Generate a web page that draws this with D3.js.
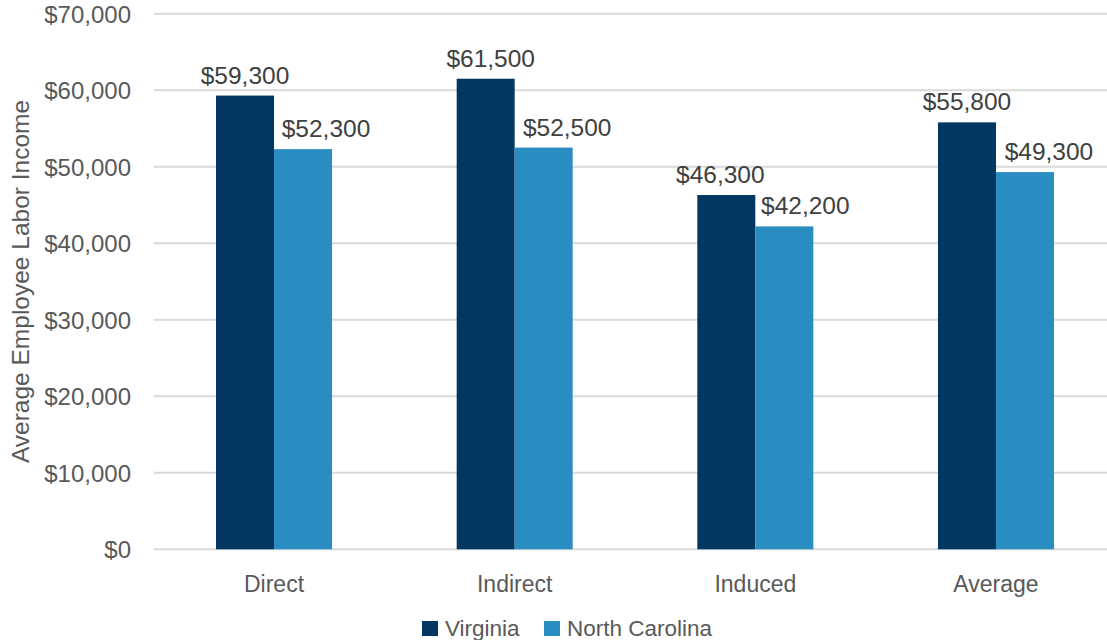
<!DOCTYPE html>
<html>
<head>
<meta charset="utf-8">
<script src="https://cdn.jsdelivr.net/npm/d3@7"></script>
<style>
  html, body { margin: 0; padding: 0; background: #fff; }
  svg { display: block; font-family: "Liberation Sans", Arial, sans-serif; }
</style>
</head>
<body>
<svg id="chart" width="1107" height="640"></svg>
<script>
// Average employee labor income by impact type
const categories = ["Direct", "Indirect", "Induced", "Average"];
const seriesNames = ["Virginia", "North Carolina"];
const virginia = [59300, 61500, 46300, 55800];
const northCarolina = [52300, 52500, 42200, 49300];
const yTicks = [0, 10000, 20000, 30000, 40000, 50000, 60000, 70000];
const colors = ["#023761", "#2A8DC1"];

// horizontal nudges for the value labels so neighbouring labels don't collide
const labelNudge = [[0, 23], [5, 23.5], [-6, 21], [0, 24]];

const svg = d3.select("#chart");
const textColor = "#595959";
const fmt = v => "$" + d3.format(",")(v);

const x0 = d3.scaleBand().domain(categories).range([153.7, 1116.3]).paddingInner(0).paddingOuter(0);
const groupW = 116;
const x1 = d3.scaleBand().domain(seriesNames)
  .range([(x0.bandwidth() - groupW) / 2, (x0.bandwidth() + groupW) / 2]).padding(0);
const y = d3.scaleLinear().domain([0, 70000]).range([549.3, 13.7]);

// gridlines
svg.append("g").selectAll("line").data(yTicks).join("line")
  .attr("x1", 153.7).attr("x2", 1116.3)
  .attr("y1", d => y(d)).attr("y2", d => y(d))
  .attr("stroke", "#d9d9d9").attr("stroke-width", 2);

// y axis labels
const yAxis = svg.append("g").attr("transform", "translate(131,0)")
  .call(d3.axisLeft(y).tickValues(yTicks).tickFormat(fmt).tickSize(0).tickPadding(0));
yAxis.select(".domain").remove();
yAxis.selectAll("text").attr("fill", textColor).attr("font-size", 24)
  .attr("font-family", "Liberation Sans, Arial, sans-serif").attr("dy", "0.35em");

// x axis labels
const xAxis = svg.append("g").attr("transform", "translate(0,549.3)")
  .call(d3.axisBottom(x0).tickSize(0).tickPadding(0));
xAxis.select(".domain").remove();
xAxis.selectAll("text").attr("fill", textColor).attr("font-size", 23)
  .attr("font-family", "Liberation Sans, Arial, sans-serif").attr("dy", null).attr("y", 43);

// bars
const rows = categories.map((c, i) => ({ c, i, vals: [virginia[i], northCarolina[i]] }));
const groups = svg.append("g").selectAll("g").data(rows).join("g")
  .attr("transform", d => `translate(${x0(d.c)},0)`);
groups.selectAll("rect").data(d => d.vals.map((v, j) => ({ s: seriesNames[j], v, j, i: d.i })))
  .join("rect")
  .attr("x", d => x1(d.s)).attr("width", x1.bandwidth())
  .attr("y", d => y(d.v)).attr("height", d => y(0) - y(d.v))
  .attr("fill", d => colors[d.j]);

// value labels
groups.selectAll("text.val").data(d => d.vals.map((v, j) => ({ s: seriesNames[j], v, j, i: d.i })))
  .join("text").attr("class", "val")
  .attr("x", d => x1(d.s) + x1.bandwidth() / 2 + labelNudge[d.i][d.j])
  .attr("y", d => y(d.v) - 12)
  .attr("text-anchor", "middle").attr("fill", "#404040").attr("font-size", 24.5)
  .text(d => fmt(d.v));

// y axis title
svg.append("text")
  .attr("transform", `translate(29,${y(35000)}) rotate(-90)`)
  .attr("text-anchor", "middle").attr("fill", textColor).attr("font-size", 24.5)
  .text("Average Employee Labor Income");

// legend
const legend = svg.append("g");
const legendX = [422, 544];
seriesNames.forEach((s, i) => {
  legend.append("rect").attr("x", legendX[i]).attr("y", 621).attr("width", 16).attr("height", 15).attr("fill", colors[i]);
  legend.append("text").attr("x", legendX[i] + 23).attr("y", 636)
    .attr("fill", textColor).attr("font-size", 22.5).text(s);
});
</script>
</body>
</html>
